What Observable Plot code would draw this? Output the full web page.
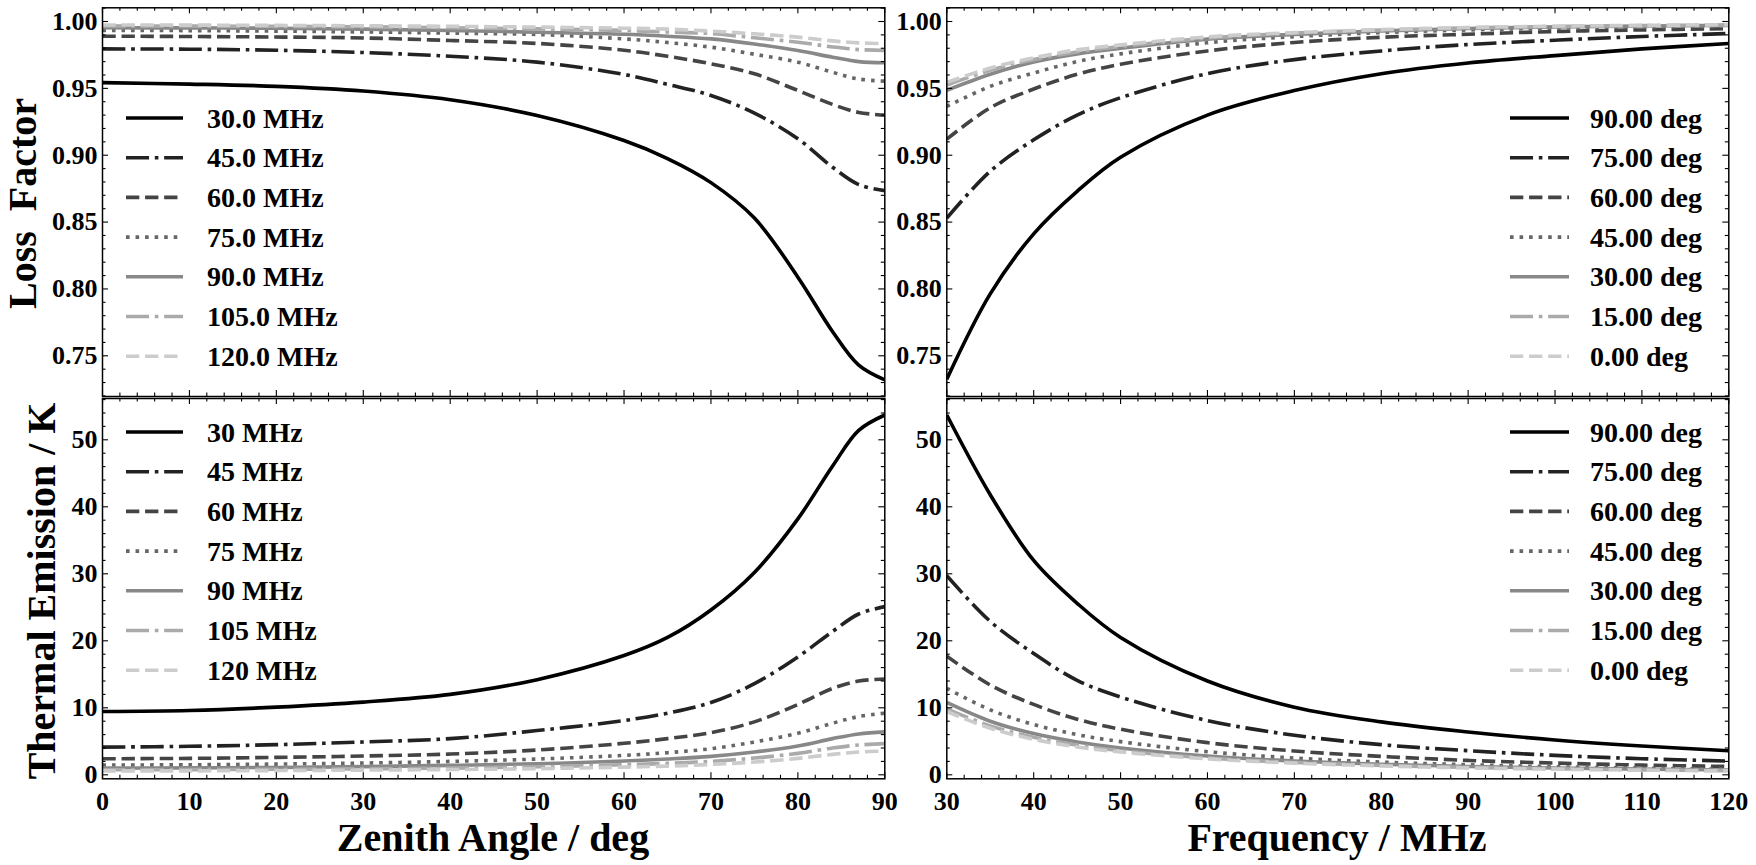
<!DOCTYPE html>
<html><head><meta charset="utf-8">
<script src="https://cdn.jsdelivr.net/npm/d3@7"></script>
<script src="https://cdn.jsdelivr.net/npm/@observablehq/plot@0.6"></script>
<style>
html,body{margin:0;padding:0;background:#fff;}
#chart{position:relative;width:1756px;height:865px;overflow:hidden;background:#fff;}
#chart svg{position:absolute;left:0;top:0;}
</style></head><body><div id="chart"></div>
<script>
// ---------------- DATA ----------------
const zenithAngles = [0, 10, 20, 30, 40, 50, 60, 65, 70, 75, 80, 84, 87, 90];
const freqGrid = [30, 35, 40, 45, 50, 60, 70, 80, 90, 100, 110, 120];

// Loss factor vs zenith angle (one array per frequency)
const loss30MHz  = [0.9543, 0.9532, 0.9515, 0.9480, 0.9415, 0.9297, 0.9110, 0.8975, 0.8795, 0.8530, 0.8088, 0.7680, 0.7430, 0.7320];
const loss45MHz  = [0.9795, 0.9793, 0.9785, 0.9768, 0.9740, 0.9696, 0.9604, 0.9530, 0.9447, 0.9315, 0.9123, 0.8910, 0.8780, 0.8735];
const loss60MHz  = [0.9890, 0.9888, 0.9884, 0.9877, 0.9858, 0.9836, 0.9785, 0.9740, 0.9684, 0.9609, 0.9484, 0.9380, 0.9320, 0.9300];
const loss75MHz  = [0.9933, 0.9932, 0.9928, 0.9922, 0.9913, 0.9903, 0.9870, 0.9843, 0.9808, 0.9755, 0.9696, 0.9620, 0.9570, 0.9554];
const loss90MHz  = [0.9953, 0.9952, 0.9950, 0.9943, 0.9933, 0.9920, 0.9905, 0.9890, 0.9870, 0.9832, 0.9783, 0.9733, 0.9700, 0.9692];
const loss105MHz = [0.9967, 0.9966, 0.9964, 0.9960, 0.9953, 0.9945, 0.9933, 0.9922, 0.9910, 0.9878, 0.9845, 0.9810, 0.9790, 0.9783];
const loss120MHz = [0.9974, 0.9973, 0.9971, 0.9968, 0.9964, 0.9958, 0.9950, 0.9943, 0.9928, 0.9908, 0.9883, 0.9855, 0.9840, 0.9834];

// Thermal emission (K) vs zenith angle (one array per frequency)
const temp30MHz  = [9.45, 9.6, 10.1, 10.85, 12.0, 14.2, 17.8, 20.5, 24.6, 30.2, 38.2, 46.1, 51.4, 53.7];
const temp45MHz  = [4.13, 4.25, 4.5, 4.9, 5.4, 6.6, 8.1, 9.2, 10.8, 13.6, 17.6, 21.4, 24.0, 25.1];
const temp60MHz  = [2.4, 2.45, 2.6, 2.8, 3.1, 3.7, 4.7, 5.4, 6.3, 7.9, 10.5, 12.9, 14.0, 14.3];
const temp75MHz  = [1.45, 1.5, 1.6, 1.75, 2.0, 2.35, 2.9, 3.3, 3.9, 4.9, 6.2, 7.7, 8.7, 9.2];
const temp90MHz  = [1.0, 1.03, 1.1, 1.22, 1.4, 1.65, 2.05, 2.35, 2.75, 3.4, 4.3, 5.4, 6.1, 6.4];
const temp105MHz = [0.75, 0.77, 0.82, 0.9, 1.0, 1.2, 1.5, 1.7, 2.0, 2.5, 3.2, 4.0, 4.45, 4.65];
const temp120MHz = [0.58, 0.59, 0.63, 0.7, 0.78, 0.92, 1.15, 1.3, 1.55, 1.9, 2.45, 3.05, 3.4, 3.55];

// Loss factor vs frequency (one array per zenith angle)
const loss90deg = [0.7325, 0.7963, 0.8412, 0.8730, 0.8985, 0.9300, 0.9484, 0.9610, 0.9690, 0.9745, 0.9795, 0.9836];
const loss75deg = [0.8530, 0.8880, 0.9115, 0.9300, 0.9430, 0.9610, 0.9715, 0.9780, 0.9828, 0.9860, 0.9888, 0.9910];
const loss60deg = [0.9120, 0.9355, 0.9495, 0.9605, 0.9680, 0.9780, 0.9843, 0.9882, 0.9905, 0.9925, 0.9937, 0.9946];
const loss45deg = [0.9365, 0.9515, 0.9615, 0.9700, 0.9758, 0.9841, 0.9887, 0.9917, 0.9937, 0.9950, 0.9958, 0.9965];
const loss30deg = [0.9485, 0.9605, 0.9698, 0.9758, 0.9800, 0.9868, 0.9904, 0.9930, 0.9948, 0.9960, 0.9966, 0.9971];
const loss15deg = [0.9525, 0.9635, 0.9715, 0.9772, 0.9813, 0.9876, 0.9913, 0.9936, 0.9952, 0.9963, 0.9969, 0.9974];
const loss0deg  = [0.9545, 0.9652, 0.9728, 0.9788, 0.9825, 0.9885, 0.9917, 0.9939, 0.9955, 0.9965, 0.9971, 0.9976];

// Thermal emission (K) vs frequency (one array per zenith angle)
const temp90deg = [53.7, 41.8, 32.0, 25.6, 20.5, 14.0, 10.1, 7.9, 6.4, 5.2, 4.3, 3.6];
const temp75deg = [29.7, 22.9, 18.1, 14.1, 11.6, 8.1, 5.9, 4.5, 3.6, 2.9, 2.4, 2.05];
const temp60deg = [17.7, 13.4, 10.5, 8.3, 6.8, 4.8, 3.55, 2.75, 2.15, 1.75, 1.45, 1.25];
const temp45deg = [12.9, 9.7, 7.5, 6.0, 4.95, 3.45, 2.5, 1.9, 1.5, 1.2, 1.0, 0.84];
const temp30deg = [10.8, 8.0, 6.15, 4.9, 4.0, 2.8, 2.05, 1.58, 1.25, 1.01, 0.84, 0.71];
const temp15deg = [9.85, 7.3, 5.6, 4.45, 3.6, 2.5, 1.84, 1.4, 1.1, 0.9, 0.74, 0.62];
const temp0deg  = [9.45, 6.95, 5.3, 4.15, 3.4, 2.38, 1.74, 1.33, 1.03, 0.84, 0.7, 0.58];

const legendFreqTop    = ["30.0 MHz", "45.0 MHz", "60.0 MHz", "75.0 MHz", "90.0 MHz", "105.0 MHz", "120.0 MHz"];
const legendFreqBottom = ["30 MHz", "45 MHz", "60 MHz", "75 MHz", "90 MHz", "105 MHz", "120 MHz"];
const legendAngle      = ["90.00 deg", "75.00 deg", "60.00 deg", "45.00 deg", "30.00 deg", "15.00 deg", "0.00 deg"];

const ticksZenith = [0, 10, 20, 30, 40, 50, 60, 70, 80, 90];
const ticksFreq   = [30, 40, 50, 60, 70, 80, 90, 100, 110, 120];
const ticksLoss   = [0.75, 0.80, 0.85, 0.90, 0.95, 1.00];
const ticksTemp   = [0, 10, 20, 30, 40, 50];

// ---------------- STYLE ----------------
const W = 1756, H = 865;
const FONT = '"Liberation Serif", "Times New Roman", Times, serif';
const LW = 3.6;
const grays = ["#000000", "#222222", "#444444", "#666666", "#888888", "#aaaaaa", "#cccccc"];
const DASHDOT = [6.4, 1.6, 1, 1.6].map(v => v * LW).join(",");
const DASHED = [3.7, 1.6].map(v => v * LW).join(",");
const DOTTED = [1, 1.65].map(v => v * LW).join(",");
const dashes = [null, DASHDOT, DASHED, DOTTED, null, DASHDOT, DASHED];

const rows = (xs, ys) => xs.map((x, i) => ({x, y: ys[i]}));

function panel({frame, xDomain, yDomain, xMinorStep, yMinorStep, xMajor, yMajor, yFmt, xs, ysList, showX}) {
  const [x0, x1, y0, y1] = frame;
  const fw = x1 - x0, fh = y1 - y0;
  const marks = [];
  ysList.forEach((ys, i) => {
    marks.push(Plot.line(rows(xs, ys), {
      x: "x", y: "y", stroke: grays[i], strokeWidth: LW,
      strokeDasharray: dashes[i] || undefined, strokeLinecap: "butt", strokeLinejoin: "round",
      curve: "catmull-rom", clip: true
    }));
  });
  const eps = 1e-9;
  const xMinor = d3.range(Math.ceil(xDomain[0] / xMinorStep) * xMinorStep, xDomain[1] + eps, xMinorStep)
    .filter(v => !xMajor.some(m => Math.abs(m - v) < 1e-6));
  const yMinor = d3.range(Math.ceil((yDomain[0] - eps) / yMinorStep) * yMinorStep, yDomain[1] + eps, yMinorStep)
    .map(v => +v.toFixed(6)).filter(v => v >= yDomain[0] && !yMajor.some(m => Math.abs(m - v) < 1e-6));
  const majL = 6, minL = 3.5;
  const tick = {stroke: "black", strokeWidth: 1.1};
  marks.push(Plot.ruleX(xMajor, {x: d => d, insetTop: fh - majL, ...tick}));
  marks.push(Plot.ruleX(xMajor, {x: d => d, insetBottom: fh - majL, ...tick}));
  marks.push(Plot.ruleX(xMinor, {x: d => d, insetTop: fh - minL, ...tick}));
  marks.push(Plot.ruleX(xMinor, {x: d => d, insetBottom: fh - minL, ...tick}));
  marks.push(Plot.ruleY(yMajor, {y: d => d, insetRight: fw - majL, ...tick}));
  marks.push(Plot.ruleY(yMajor, {y: d => d, insetLeft: fw - majL, ...tick}));
  marks.push(Plot.ruleY(yMinor, {y: d => d, insetRight: fw - minL, ...tick}));
  marks.push(Plot.ruleY(yMinor, {y: d => d, insetLeft: fw - minL, ...tick}));
  marks.push(Plot.frame({stroke: "black", strokeWidth: 1.5}));
  const txt = {fontSize: 26, fontWeight: "bold", fontFamily: FONT, fill: "black", label: null, tickSize: 0};
  if (showX) marks.push(Plot.axisX(xMajor, {anchor: "bottom", tickPadding: 12.5, tickFormat: d => String(d), ...txt}));
  marks.push(Plot.axisY(yMajor, {anchor: "left", tickPadding: 5, tickFormat: yFmt, ...txt}));
  return Plot.plot({
    width: W, height: H,
    marginLeft: x0, marginRight: W - x1, marginTop: y0, marginBottom: H - y1,
    x: {domain: xDomain, axis: null, label: null},
    y: {domain: yDomain, axis: null, label: null},
    style: {background: "transparent", overflow: "visible"},
    marks
  });
}

const FL = [102, 884.3], FR = [946.3, 1728.3], FT = [7.3, 396], FB = [398, 778.3];
const lossDomain = [0.71956, 1.01025], tempDomain = [-0.597, 56.164];
const chart = document.getElementById("chart");

chart.append(panel({frame: [...FL, ...FT], xDomain: [0, 90], yDomain: lossDomain, xMinorStep: 2, yMinorStep: 0.01,
  xMajor: ticksZenith, yMajor: ticksLoss, yFmt: d => d.toFixed(2), xs: zenithAngles,
  ysList: [loss30MHz, loss45MHz, loss60MHz, loss75MHz, loss90MHz, loss105MHz, loss120MHz], showX: false}));
chart.append(panel({frame: [...FR, ...FT], xDomain: [30, 120], yDomain: lossDomain, xMinorStep: 2, yMinorStep: 0.01,
  xMajor: ticksFreq, yMajor: ticksLoss, yFmt: d => d.toFixed(2), xs: freqGrid,
  ysList: [loss90deg, loss75deg, loss60deg, loss45deg, loss30deg, loss15deg, loss0deg], showX: false}));
chart.append(panel({frame: [...FL, ...FB], xDomain: [0, 90], yDomain: tempDomain, xMinorStep: 2, yMinorStep: 2,
  xMajor: ticksZenith, yMajor: ticksTemp, yFmt: d => String(d), xs: zenithAngles,
  ysList: [temp30MHz, temp45MHz, temp60MHz, temp75MHz, temp90MHz, temp105MHz, temp120MHz], showX: true}));
chart.append(panel({frame: [...FR, ...FB], xDomain: [30, 120], yDomain: tempDomain, xMinorStep: 2, yMinorStep: 2,
  xMajor: ticksFreq, yMajor: ticksTemp, yFmt: d => String(d), xs: freqGrid,
  ysList: [temp90deg, temp75deg, temp60deg, temp45deg, temp30deg, temp15deg, temp0deg], showX: true}));

// ---------------- LEGENDS & AXIS TITLES (overlay) ----------------
const ov = d3.create("svg").attr("width", W).attr("height", H)
  .style("font-family", FONT).style("font-weight", "bold");
function legend(labels, lineX0, lineX1, textX, rowY0) {
  const step = 39.7;
  labels.forEach((lab, i) => {
    const y = rowY0 + i * step;
    ov.append("line").attr("x1", lineX0).attr("x2", lineX1).attr("y1", y).attr("y2", y)
      .attr("stroke", grays[i]).attr("stroke-width", LW).attr("stroke-linecap", "butt")
      .attr("stroke-dasharray", dashes[i]);
    ov.append("text").attr("x", textX).attr("y", y + 9.5).attr("font-size", 28).text(lab);
  });
}
legend(legendFreqTop, 126, 183, 207, 118);
legend(legendFreqBottom, 126, 183, 207, 432);
legend(legendAngle, 1510, 1569, 1590, 118);
legend(legendAngle, 1510, 1569, 1590, 432);

ov.append("text").attr("transform", "translate(36,203.5) rotate(-90)").attr("text-anchor", "middle")
  .attr("font-size", 40).style("white-space", "pre").text("Loss  Factor");
ov.append("text").attr("transform", "translate(55,591) rotate(-90)").attr("text-anchor", "middle")
  .attr("font-size", 40).text("Thermal Emission / K");
ov.append("text").attr("x", 493).attr("y", 851).attr("text-anchor", "middle")
  .attr("font-size", 40).text("Zenith Angle / deg");
ov.append("text").attr("x", 1337).attr("y", 851).attr("text-anchor", "middle")
  .attr("font-size", 40).text("Frequency / MHz");
chart.append(ov.node());
</script></body></html>
